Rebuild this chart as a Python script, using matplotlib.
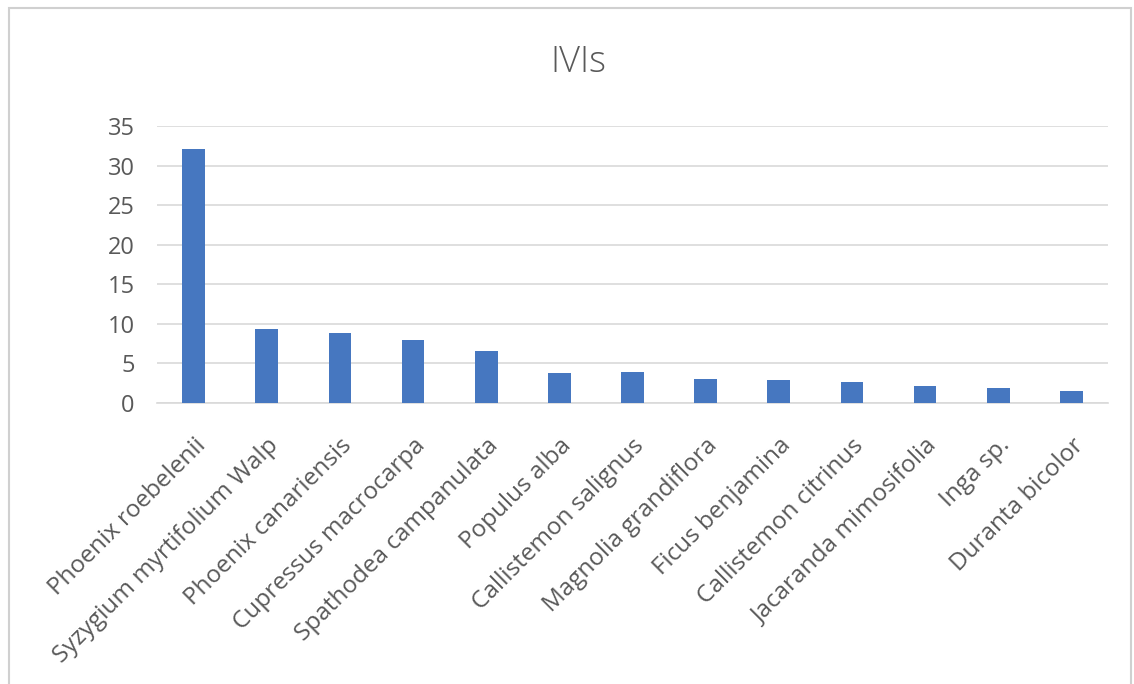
import numpy as np
import matplotlib.pyplot as plt
from matplotlib.patches import Rectangle

species = ['Phoenix roebelenii', 'Syzygium myrtifolium Walp', 'Phoenix canariensis',
           'Cupressus macrocarpa', 'Spathodea campanulata', 'Populus alba',
           'Callistemon salignus', 'Magnolia grandiflora', 'Ficus benjamina',
           'Callistemon citrinus', 'Jacaranda mimosifolia', 'Inga sp.', 'Duranta bicolor']
ivi = [32.1, 9.4, 8.86, 7.9, 6.6, 3.85, 3.88, 3.08, 2.88, 2.7, 2.15, 1.95, 1.56]
yticks = [0, 5, 10, 15, 20, 25, 30, 35]

plt.rcParams['font.family'] = ['Open Sans', 'DejaVu Sans']

fig = plt.figure(figsize=(11.34, 6.84), dpi=100)
ax = fig.add_axes([157/1134, 1 - 403/684, (1108 - 157)/1134, (403 - 126)/684])

# chart border like the spreadsheet frame
fig.patches.append(Rectangle((9/1134, -0.05), (1131 - 9)/1134, 1.05 - 8/684,
                             transform=fig.transFigure, fill=False,
                             edgecolor='#d0d0d0', linewidth=1.5))

x = np.arange(len(species))
ax.bar(x, ivi, width=0.31, color='#4677c0', zorder=3)

ax.set_xlim(-0.5, len(species) - 0.5)
ax.set_ylim(0, 35)
ax.set_yticks(yticks)
ax.grid(axis='y', color='#d9d9d9', linewidth=1.2, zorder=0)
for s in ['top', 'right', 'left']:
  ax.spines[s].set_visible(False)
ax.spines['bottom'].set_color('#d9d9d9')
ax.spines['bottom'].set_linewidth(1.2)
ax.tick_params(axis='both', length=0, colors='#595959')
ax.tick_params(axis='y', pad=16, labelsize=17)

ax.set_xticks(x)
ax.set_xticklabels(species, rotation=45, ha='right', rotation_mode='anchor',
                   fontsize=17.5, color='#595959')
ax.tick_params(axis='x', pad=22)

fig.text(578/1134, 1 - 62/684, 'IVIs', ha='center', va='center', fontsize=26,
         color='#595959', fontweight='light')

plt.savefig('out.png', dpi=100)
